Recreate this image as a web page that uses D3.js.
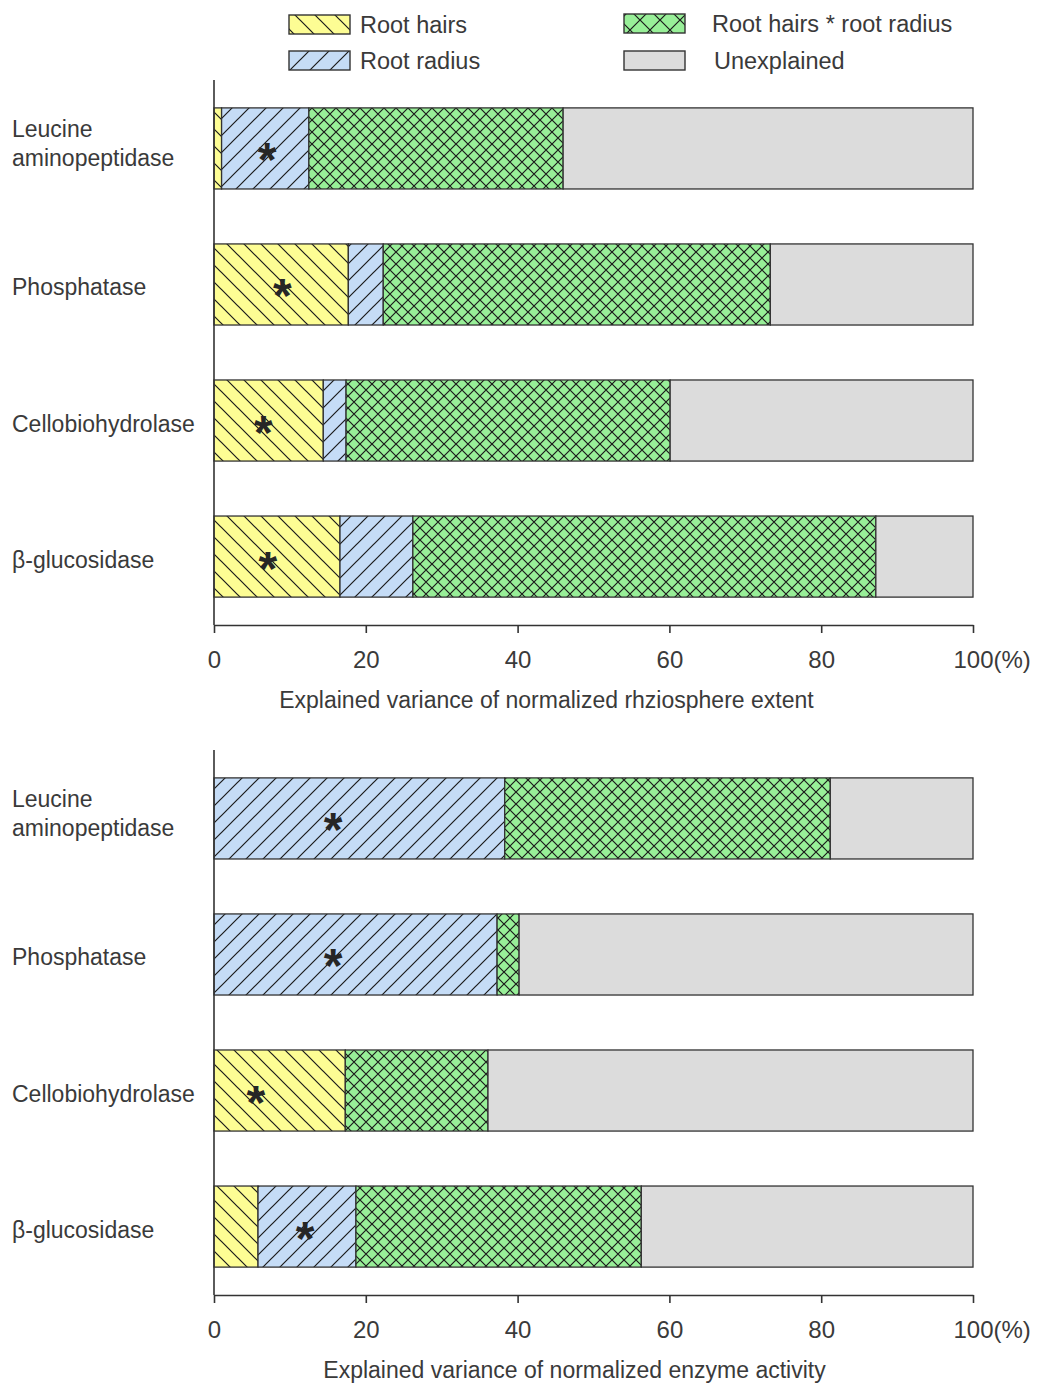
<!DOCTYPE html>
<html>
<head>
<meta charset="utf-8">
<script src="https://cdn.jsdelivr.net/npm/d3@7"></script>
<style>
  body { margin: 0; background: #fff; }
  text { font-family: "Liberation Sans", Arial, sans-serif; fill: #3a3a3a; }
</style>
</head>
<body>
<svg id="chart" width="1039" height="1389"></svg>
<script>
// categories (label lines)
var categories = ["Leucine aminopeptidase", "Phosphatase", "Cellobiohydrolase", "β-glucosidase"];
var categoryLines = [["Leucine", "aminopeptidase"], ["Phosphatase"], ["Cellobiohydrolase"], ["β-glucosidase"]];
var keys = ["hairs", "radius", "inter", "unexpl"];
var keyNames = ["Root hairs", "Root radius", "Root hairs * root radius", "Unexplained"];
var ticks = [0, 20, 40, 60, 80, 100];

// panel 1: normalized rhizosphere extent
var rhizoHairs  = [1.0, 17.7, 14.4, 16.6];
var rhizoRadius = [11.5, 4.6, 3.0, 9.6];
var rhizoInter  = [33.5, 51.0, 42.7, 61.0];
var rhizoUnexpl = [54.0, 26.7, 39.9, 12.8];
var rhizoStarAt = [7.0, 9.0, 6.5, 7.1];

// panel 2: normalized enzyme activity
var enzHairs  = [0, 0, 17.3, 5.8];
var enzRadius = [38.3, 37.3, 0, 12.9];
var enzInter  = [42.9, 2.9, 18.8, 37.6];
var enzUnexpl = [18.8, 59.8, 63.9, 43.7];
var enzStarAt = [15.7, 15.7, 5.5, 12.0];

var colors = { hairs: "#fdfd94", radius: "#c5dcf6", inter: "#98ef98", unexpl: "#dcdcdc" };
var ink = "#333";

var svg = d3.select("#chart");
var defs = svg.append("defs");

function makePattern(id, key, size) {
    var p = defs.append("pattern")
        .attr("id", id)
        .attr("patternUnits", "userSpaceOnUse")
        .attr("width", size).attr("height", size);
    p.append("rect").attr("width", size).attr("height", size).attr("fill", colors[key]);
    var d = null;
    if (key == "hairs") d = "M0,0L" + size + "," + size + "M" + (-size) + ",0L" + size + "," + (2 * size) + "M0," + (-size) + "L" + (2 * size) + "," + size;
    if (key == "radius") d = "M0," + size + "L" + size + ",0M" + (-size) + "," + size + "L" + size + "," + (-size) + "M0," + (2 * size) + "L" + (2 * size) + ",0";
    if (key == "inter") d = "M0,0L" + size + "," + size + "M" + size + ",0L0," + size;
    if (d) p.append("path").attr("d", d).attr("stroke", "#1a1a1a").attr("stroke-width", 1.2).attr("fill", "none");
}
keys.forEach(function (k) {
    makePattern("p-" + k, k, k == "inter" ? 12 : 17);
    makePattern("l-" + k, k, 20);
});

var x = d3.scaleLinear().domain([0, 100]).range([214, 973]);

function drawPanel(top, hairs, radius, inter, unexpl, starAt, title, titleAt) {
    var axisY = top + 545;
    var y = d3.scaleBand().domain(categories).range([top, axisY])
        .paddingInner(0.404).paddingOuter(0.205);

    var rows = categories.map(function (c, i) {
        return { cat: c, hairs: hairs[i], radius: radius[i], inter: inter[i], unexpl: unexpl[i] };
    });
    var stacked = d3.stack().keys(keys)(rows);

    var g = svg.append("g");
    g.selectAll("g.layer")
        .data(stacked)
        .enter().append("g")
        .attr("fill", function (d) { return "url(#p-" + d.key + ")"; })
        .selectAll("rect")
        .data(function (d) { return d.filter(function (e) { return e[1] - e[0] > 0; }); })
        .enter().append("rect")
        .attr("x", function (d) { return x(d[0]); })
        .attr("y", function (d) { return y(d.data.cat); })
        .attr("width", function (d) { return x(d[1]) - x(d[0]); })
        .attr("height", y.bandwidth())
        .attr("stroke", ink)
        .attr("stroke-width", 1.3);

    // asterisks
    g.selectAll("text.star")
        .data(categories)
        .enter().append("text")
        .attr("x", function (d, i) { return x(starAt[i]); })
        .attr("y", function (d) { return y(d) + y.bandwidth() / 2 + 28; })
        .attr("text-anchor", "middle")
        .attr("font-size", 48)
        .attr("font-weight", "bold")
        .style("fill", "#262626")
        .text("*");

    // category labels
    categories.forEach(function (c, i) {
        var lines = categoryLines[i];
        var cy = y(c) + y.bandwidth() / 2 + (lines.length > 1 ? -5 : 3);
        var t = g.append("text").attr("font-size", 23);
        lines.forEach(function (s, j) {
            t.append("tspan")
                .attr("x", 12)
                .attr("y", cy + (j - (lines.length - 1) / 2) * 29 + 8)
                .text(s);
        });
    });

    // y axis line
    svg.append("g")
        .attr("transform", "translate(" + x(0) + ",0)")
        .call(d3.axisLeft(y).tickValues([]).tickSizeOuter(0))
        .select(".domain")
        .attr("d", "M0," + top + "V" + axisY)
        .attr("stroke", ink).attr("stroke-width", 1.6);

    // x axis
    var ax = svg.append("g")
        .attr("transform", "translate(0," + axisY + ")")
        .call(d3.axisBottom(x).tickValues(ticks).tickSize(8).tickSizeOuter(0).tickPadding(18));
    ax.select(".domain").attr("stroke", ink).attr("stroke-width", 1.6);
    ax.selectAll(".tick line").attr("stroke", ink).attr("stroke-width", 1.6);
    ax.selectAll(".tick text")
        .attr("font-size", 24)
        .attr("font-family", "Liberation Sans, Arial, sans-serif")
        .style("fill", "#3a3a3a");
    ax.selectAll(".tick").filter(function (d) { return d == 100; })
        .each(function () {
            var t = d3.select(this).select("text");
            var w = t.node().getComputedTextLength();
            d3.select(this).append("text")
                .attr("x", w / 2)
                .attr("y", t.attr("y"))
                .attr("dy", t.attr("dy"))
                .attr("text-anchor", "start")
                .attr("font-size", 24)
                .attr("font-family", "Liberation Sans, Arial, sans-serif")
                .style("fill", "#3a3a3a")
                .text("(%)");
        });

    svg.append("text")
        .attr("x", x(titleAt))
        .attr("y", axisY + 83)
        .attr("text-anchor", "middle")
        .attr("font-size", 23)
        .text(title);
}

drawPanel(80, rhizoHairs, rhizoRadius, rhizoInter, rhizoUnexpl, rhizoStarAt,
    "Explained variance of normalized rhziosphere extent", 43.8);
drawPanel(750, enzHairs, enzRadius, enzInter, enzUnexpl, enzStarAt,
    "Explained variance of normalized enzyme activity", 47.5);

// legend
var legendItems = [
    { key: "hairs", x: 289, y: 15, tx: 360 },
    { key: "radius", x: 289, y: 51, tx: 360 },
    { key: "inter", x: 624, y: 14, tx: 712 },
    { key: "unexpl", x: 624, y: 51, tx: 714 }
];
var lg = svg.append("g").selectAll("g")
    .data(legendItems)
    .enter().append("g");
lg.append("rect")
    .attr("x", function (d) { return d.x; })
    .attr("y", function (d) { return d.y; })
    .attr("width", 61).attr("height", 19)
    .attr("fill", function (d) { return "url(#l-" + d.key + ")"; })
    .attr("stroke", ink).attr("stroke-width", 1.4);
lg.append("text")
    .attr("x", function (d) { return d.tx; })
    .attr("y", function (d) { return d.y + 9.5 + 8; })
    .attr("font-size", 23.5)
    .text(function (d) { return keyNames[keys.indexOf(d.key)]; });
</script>
</body>
</html>
